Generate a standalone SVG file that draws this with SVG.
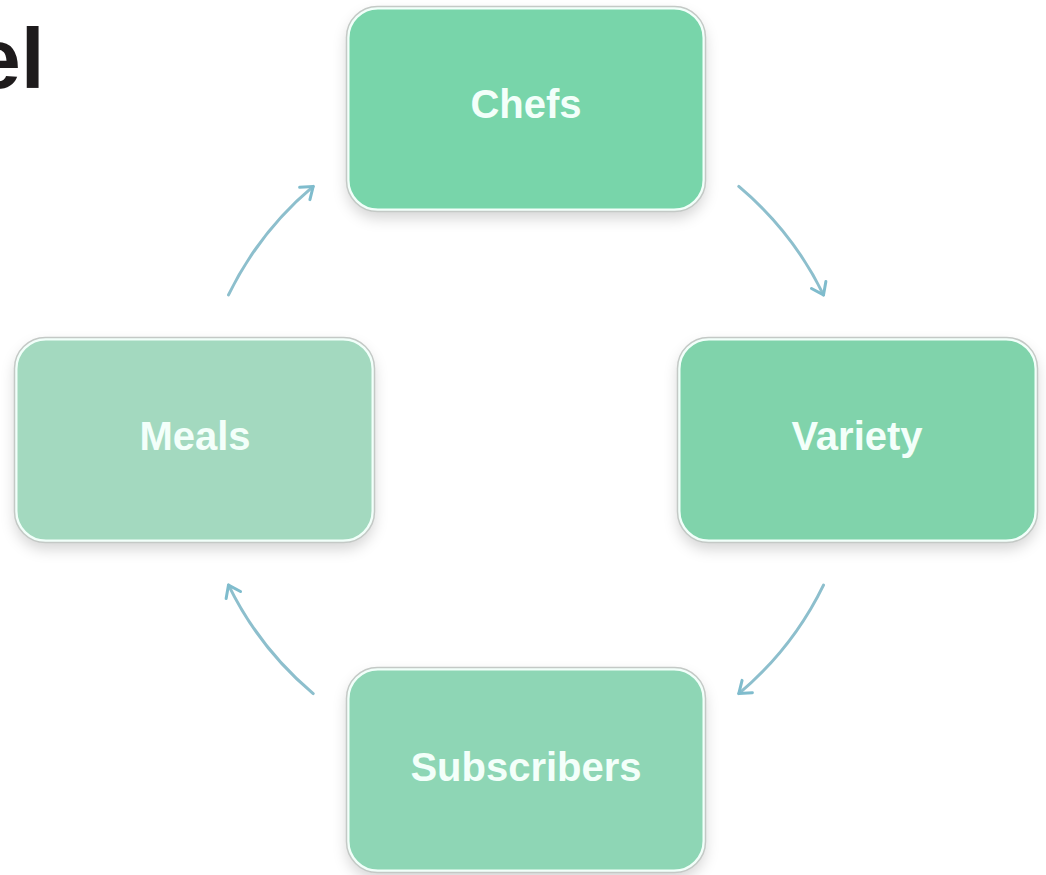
<svg xmlns="http://www.w3.org/2000/svg" width="1046" height="875" viewBox="0 0 1046 875">
  <style>
    .box { stroke: #f2fffa; stroke-width: 3; }
    .edge { stroke: #c4c9c6; stroke-width: 1.5; fill: none; }
    .label { font-family: "Liberation Sans", Arial, sans-serif; font-weight: bold; font-size: 40px; fill: #f3fffa; text-anchor: middle; }
    .title { font-family: "Liberation Sans", Arial, sans-serif; font-weight: bold; font-size: 86px; fill: #1e1b1c; }
    .conn { fill: none; stroke: #8dbfcd; stroke-width: 3; stroke-linecap: round; }
  </style>
  <defs>
    <filter id="shadow" x="-10%" y="-10%" width="120%" height="130%">
      <feDropShadow dx="0" dy="7" stdDeviation="7" flood-color="#000" flood-opacity="0.16"/>
    </filter>
    <marker id="arrow" markerUnits="userSpaceOnUse" markerWidth="24" markerHeight="24" refX="14" refY="10" orient="auto">
      <path d="M3,2 L14,10 L3,18" fill="none" stroke="#7fbccd" stroke-width="3" stroke-linecap="round" stroke-linejoin="round"/>
    </marker>
  </defs>
  <rect width="1046" height="875" fill="#ffffff"/>
  <text class="title" x="-27" y="88">el</text>

  <g id="connectors">
    <path class="conn" d="M738.8,186.4 A331,331 0 0 1 823.5,294.9" marker-end="url(#arrow)"/>
    <path class="conn" d="M823.5,585.1 A331,331 0 0 1 738.8,693.6" marker-end="url(#arrow)"/>
    <path class="conn" d="M313.2,693.6 A331,331 0 0 1 228.5,585.1" marker-end="url(#arrow)"/>
    <path class="conn" d="M228.5,294.9 A331,331 0 0 1 313.2,186.4" marker-end="url(#arrow)"/>
  </g>

  <g id="node-chefs">
    <rect class="box" x="348" y="8" width="356" height="202" rx="30" fill="#78d5aa" filter="url(#shadow)"/>
    <rect class="edge" x="346.5" y="6.5" width="359" height="205" rx="31"/>
    <text class="label" x="526" y="118">Chefs</text>
  </g>
  <g id="node-variety">
    <rect class="box" x="679" y="339" width="357" height="202" rx="30" fill="#80d3ab" filter="url(#shadow)"/>
    <rect class="edge" x="677.5" y="337.5" width="360" height="205" rx="31"/>
    <text class="label" x="857" y="450">Variety</text>
  </g>
  <g id="node-meals">
    <rect class="box" x="16" y="339" width="357" height="202" rx="30" fill="#a3d9bf" filter="url(#shadow)"/>
    <rect class="edge" x="14.5" y="337.5" width="360" height="205" rx="31"/>
    <text class="label" x="195" y="450">Meals</text>
  </g>
  <g id="node-subscribers">
    <rect class="box" x="348" y="669" width="356" height="202" rx="30" fill="#8ed6b5" filter="url(#shadow)"/>
    <rect class="edge" x="346.5" y="667.5" width="359" height="205" rx="31"/>
    <text class="label" x="526" y="781">Subscribers</text>
  </g>
</svg>
